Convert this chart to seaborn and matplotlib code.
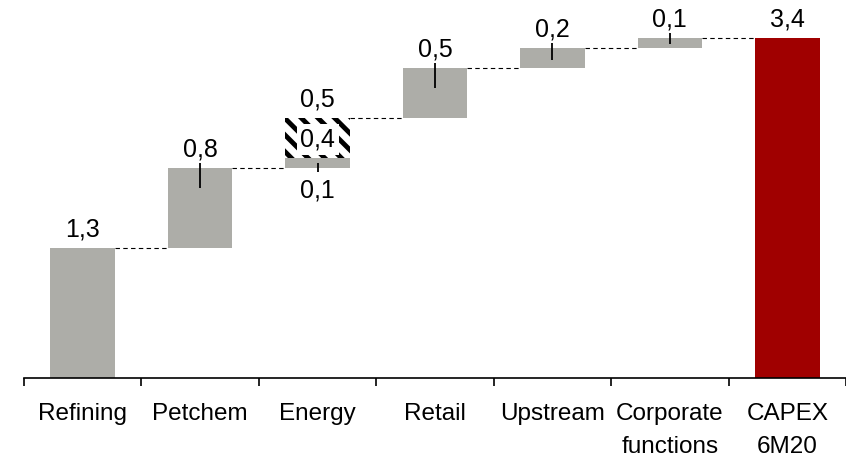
import matplotlib
matplotlib.use("Agg")
import numpy as np
import pandas as pd
import seaborn as sns
import matplotlib.pyplot as plt

categories = ["Refining", "Petchem", "Energy", "Retail", "Upstream",
              "Corporate\nfunctions", "CAPEX\n6M20"]
steps = [1.3, 0.8, 0.5, 0.5, 0.2, 0.1]
energy_solid = 0.1
energy_hatched = 0.4
total = 3.4

sns.set_theme(style="white")
plt.rcParams["font.family"] = ["Liberation Sans", "DejaVu Sans"]
plt.rcParams["text.color"] = "black"
plt.rcParams["hatch.linewidth"] = 3.5
plt.rcParams["hatch.color"] = "black"

grey = "#adada8"
red = "#a00000"
width = 0.55
lab_size = 18


def fmt(v):
    return f"{v:.1f}".replace(".", ",")


tops = np.cumsum(steps)
bottoms = tops - np.array(steps)
solid = list(steps)
solid[2] = energy_solid
df = pd.DataFrame({"category": categories,
                   "height": solid + [total],
                   "bottom": list(bottoms) + [0.0]})

fig = plt.figure(figsize=(8.46, 4.66), dpi=100)
ax = fig.add_axes([0.0284, 0.189, 0.9716, 0.772])

sns.barplot(data=df, x="category", y="height", order=categories,
            bottom=df["bottom"].values, color=grey, saturation=1,
            width=width, errorbar=None, linewidth=0, ax=ax)
ax.patches[-1].set_facecolor(red)

# hatched part of energy
sns.barplot(x=["Energy"], y=[energy_hatched], order=categories,
            bottom=[bottoms[2] + energy_solid], facecolor="white",
            edgecolor="black", hatch="\\\\", linewidth=0, saturation=1,
            width=width, errorbar=None, ax=ax)

# dashed connectors
for i, level in enumerate(tops):
    ax.plot([i + width / 2, i + 1 - width / 2], [level, level],
            ls=(0, (4, 3)), color="black", lw=0.8)

# labels and leader lines
for i, (v, top) in enumerate(zip(steps, tops)):
    if i == 2:
        continue
    ax.text(i, top + 0.12, fmt(v), ha="center", va="baseline", fontsize=lab_size)
    if i > 0:
        ax.vlines(i, top - min(0.2, 0.6 * v), top + 0.05, color="black", lw=1.3)

e_bot = bottoms[2]
ax.text(2, tops[2] + 0.12, fmt(steps[2]), ha="center", va="baseline", fontsize=lab_size)
ax.text(2, e_bot + energy_solid + energy_hatched / 2 - 0.01, fmt(energy_hatched),
        ha="center", va="center", fontsize=lab_size,
        bbox=dict(facecolor="white", edgecolor="none", pad=2.5))
ax.text(2, e_bot - 0.1, fmt(energy_solid), ha="center", va="top", fontsize=lab_size)
ax.vlines(2, e_bot - 0.04, e_bot + 0.05, color="black", lw=1.3)

ax.text(6, total + 0.12, fmt(total), ha="center", va="baseline", fontsize=lab_size)

ax.set_xlim(-0.5, 6.5)
ax.set_ylim(0, 3.6)
ax.set_xlabel("")
ax.set_ylabel("")
ax.set_yticks([])
ax.set_xticks(np.arange(-0.5, 7, 1))
ax.set_xticklabels([])
ax.set_xticks(np.arange(7), minor=True)
ax.set_xticklabels(categories, minor=True, fontsize=17.5, linespacing=1.65)
ax.tick_params(axis="x", which="major", direction="out", length=6, width=1.2,
               color="black", bottom=True)
ax.tick_params(axis="x", which="minor", length=0, pad=18, labelcolor="black")
for side in ["left", "top", "right"]:
    ax.spines[side].set_visible(False)
ax.spines["bottom"].set_color("black")
ax.spines["bottom"].set_linewidth(1.2)

fig.savefig("out.png", dpi=100)
